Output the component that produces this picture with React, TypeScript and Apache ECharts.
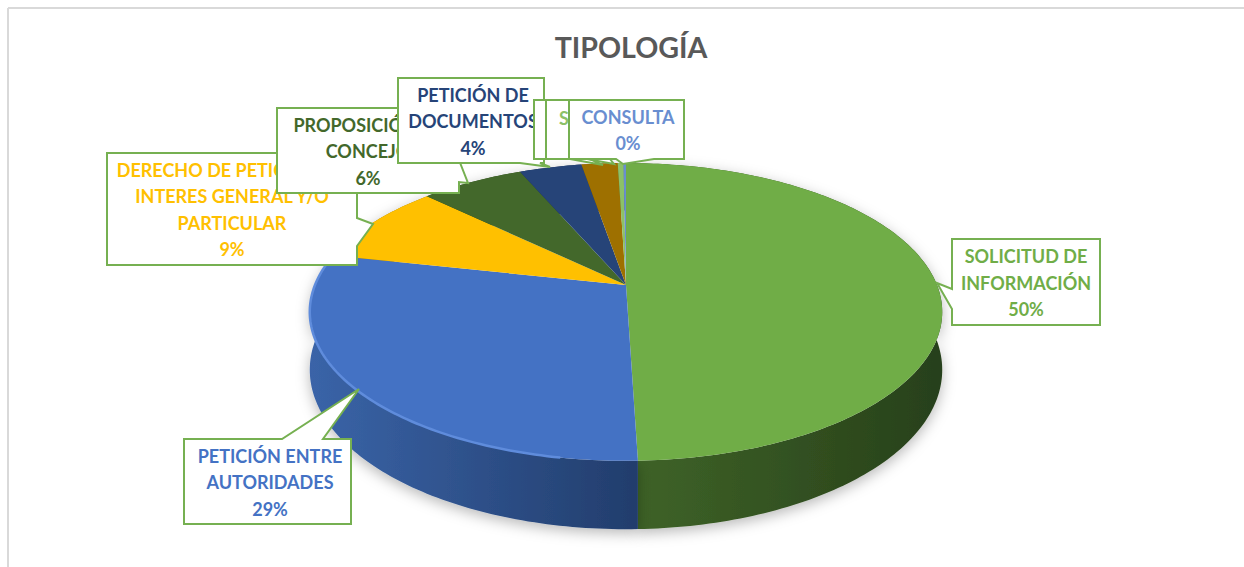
import React, { useEffect, useRef } from "react";
import * as echarts from "echarts";

const categories = [
  "SOLICITUD DE\nINFORMACIÓN",
  "PETICIÓN ENTRE\nAUTORIDADES",
  "DERECHO DE PETICIÓN DE\nINTERES GENERAL Y/O\nPARTICULAR",
  "PROPOSICIÓN AL\nCONCEJO",
  "PETICIÓN DE\nDOCUMENTOS",
  "",
  "S",
  "CONSULTA",
];
const values = [49.5, 28.9, 8.8, 6.3, 3.8, 2.2, 0.35, 0.15];
const colors = ["#70AD47", "#4472C4", "#FFC000", "#43682B", "#264478", "#9E7000", "#8CC168", "#698ED0"];
const wallLeft = ["#3F6428", "#3A64A8", "#997300", "#2C451C", "#1A2E50", "#6A4E00", "#5C8044", "#46608C"];
const wallRight = ["#27401A", "#223D6C", "#997300", "#2C451C", "#1A2E50", "#6A4E00", "#5C8044", "#46608C"];

// label boxes: [left, top, right, bottom], tail: three points
const boxes = [
  [952, 239, 1100, 325],
  [184, 439, 351, 524],
  [107, 153, 357, 265],
  [277, 108, 459, 193],
  [398, 78, 544, 163],
  [534, 100, 650, 159],
  [546, 100, 660, 159],
  [569, 100, 684, 159],
];
const tails = [
  [[952, 309], [937, 283], [952, 289]],
  [[323, 439], [359, 389], [282, 439]],
  [[357, 218], [373, 224], [357, 246]],
  [[459, 160], [468, 183], [459, 182]],
  [[540, 163], [550, 167], [520, 163]],
  [[590, 159], [603, 165], [570, 159]],
  [[610, 159], [614, 164], [587, 159]],
  [[654, 159], [623, 164], [616, 159]],
];
const labelCentres = [1026, 270, 232, 368, 473, 0, 564, 628];

const CX = 626;
const CY = 285;
const RX = 311;
const RY = 144;
const P = 0.181;
const WALL = 56;
const project = (deg: number, drop = 0) => {
  const t = (deg * Math.PI) / 180;
  const x = Math.sin(t);
  const y = -Math.cos(t);
  const d = 1 - P * y;
  return [CX + (RX * x) / d, CY + (RY * y) / d + drop / d];
};
const arc = (a: number, b: number, drop = 0) => {
  const n = Math.max(2, Math.ceil(Math.abs(b - a)));
  const pts: number[][] = [];
  for (let i = 0; i <= n; i++) pts.push(project(a + ((b - a) * i) / n, drop));
  return pts;
};

const total = values.reduce((s, v) => s + v, 0);
const starts: number[] = [];
values.reduce((s, v, i) => {
  starts[i] = s;
  return s + v;
}, 0);
const seriesData = values.map((v, i) => [v, starts[i]]);

const FONT = "Lato";

export default function App() {
  const ref = useRef<HTMLDivElement>(null);
  useEffect(() => {
    const chart = echarts.init(ref.current!, undefined, { renderer: "svg" });
    const angles = (api: any) => {
      const a = (api.value(1) / total) * 360;
      return [a, a + (api.value(0) / total) * 360];
    };
    const graphics: any[] = [
      { type: "line", z: 1, shape: { x1: 8, y1: 8, x2: 1244, y2: 8 }, style: { stroke: "#D9D9D9", lineWidth: 2 } },
      { type: "line", z: 1, shape: { x1: 8, y1: 8, x2: 8, y2: 567 }, style: { stroke: "#D9D9D9", lineWidth: 2 } },
    ];
    boxes.forEach((b, i) => {
      const [l, t, r, bt] = b;
      const tail = tails[i];
      let points: number[][];
      if (i === 0) points = [[l, t], [r, t], [r, bt], [l, bt], ...tail];
      else if (i === 1) points = [[l, t], ...tail.slice().reverse(), [r, t], [r, bt], [l, bt]];
      else if (i === 2 || i === 3) points = [[l, t], [r, t], ...tail, [r, bt], [l, bt]];
      else points = [[l, t], [r, t], [r, bt], ...tail, [l, bt]];
      graphics.push({
        type: "polygon",
        z: 10 + i * 2,
        shape: { points },
        style: { fill: "#FFFFFF", stroke: "#76B051", lineWidth: 2 },
      });
      const name = categories[i];
      if (name) {
        const pct = i === 6 ? "" : `\n${Math.round((values[i] / total) * 100)}%`;
        graphics.push({
          type: "text",
          z: 11 + i * 2,
          x: labelCentres[i],
          y: (t + bt) / 2 + (i === 6 ? -12 : 0.5),
          style: {
            text: name + pct,
            fill: colors[i],
            font: `bold 18px ${FONT}`,
            lineHeight: 26.5,
            align: "center",
            verticalAlign: "middle",
          },
        });
      }
    });
    chart.setOption({
      animation: false,
      title: {
        text: "TIPOLOGÍA",
        left: 626,
        top: 27,
        textAlign: "center",
        textStyle: { fontFamily: FONT, fontWeight: "bold", fontSize: 28.6, color: "#595959" },
      },
      series: [
        {
          type: "custom",
          coordinateSystem: "none",
          z: 2,
          data: seriesData,
          renderItem: (params: any, api: any) => {
            const [a, b] = angles(api);
            const i = params.dataIndex;
            return {
              type: "polygon",
              shape: { points: [...arc(a, b), ...arc(b, a, WALL)] },
              style: {
                fill: new echarts.graphic.LinearGradient(0, 0, 1, 0, [
                  { offset: 0, color: wallLeft[i] },
                  { offset: 1, color: wallRight[i] },
                ]),
                shadowBlur: 14,
                shadowColor: "rgba(0,0,0,0.28)",
                shadowOffsetY: 4,
              },
            };
          },
        },
        {
          type: "custom",
          coordinateSystem: "none",
          z: 3,
          data: seriesData,
          renderItem: (params: any, api: any) => {
            const [a, b] = angles(api);
            const i = params.dataIndex;
            const children: any[] = [
              { type: "polygon", shape: { points: [[CX, CY], ...arc(a, b)] }, style: { fill: colors[i] } },
            ];
            if (i === 1) {
              children.push({
                type: "polyline",
                shape: { points: arc(Math.max(a, 190), Math.min(b, 278)) },
                style: { stroke: "#5F8CDC", lineWidth: 2.5, fill: "none" },
              });
            }
            return { type: "group", children };
          },
        },
      ],
      graphic: { elements: graphics },
    });
    return () => chart.dispose();
  }, []);
  return <div ref={ref} style={{ position: "absolute", left: 0, top: 0, width: 1244, height: 567, background: "#fff" }} />;
}
